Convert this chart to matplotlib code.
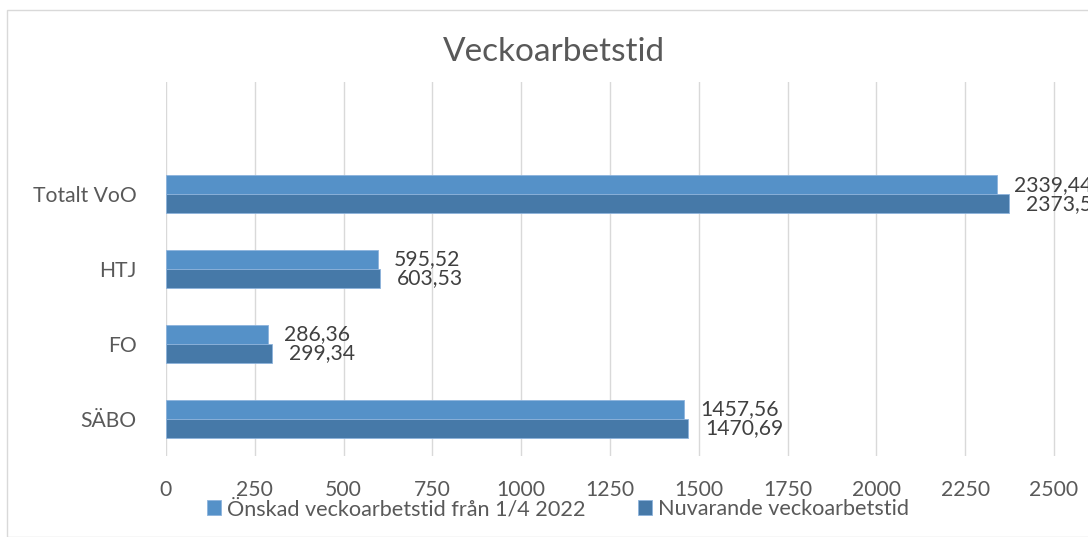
import numpy as np
import matplotlib.pyplot as plt
from matplotlib.patches import Rectangle

# data (top to bottom in the chart)
categories = ["Totalt VoO", "HTJ", "FO", "SÄBO"]
onskad = [2339.44, 595.52, 286.36, 1457.56]
nuvarande = [2373.56, 603.53, 299.34, 1470.69]
series_names = ["Önskad veckoarbetstid från 1/4 2022", "Nuvarande veckoarbetstid"]
xticks = [0, 250, 500, 750, 1000, 1250, 1500, 1750, 2000, 2250, 2500]

light = "#5591C8"
dark = "#4679A8"
grey_txt = "#595959"

plt.rcParams['font.family'] = ['Lato', 'DejaVu Sans']

W, H = 1088, 537
fig = plt.figure(figsize=(W / 100, H / 100), dpi=100)

# chart border (cropped on the right and bottom)
fig.patches.append(Rectangle((7 / W, 0), 1.2, 1 - 10 / H, transform=fig.transFigure,
                             fill=False, edgecolor="#D9D9D9", linewidth=1.0))

ax = fig.add_axes([166 / W, 1 - 456 / H, 1 - 166 / W, (456 - 82) / H])

# categories bottom-up, leaving an empty slot on top
y = np.arange(len(categories))[::-1].astype(float)
h = 0.253
b1 = ax.barh(y + h / 2, onskad, height=h, color=light, edgecolor="#8DB3DC", linewidth=0.6,
             label=series_names[0], zorder=3)
b2 = ax.barh(y - h / 2, nuvarande, height=h, color=dark, edgecolor="#8DB3DC", linewidth=0.6,
             label=series_names[1], zorder=3)

def fmt(v):
    return f"{v:.2f}".replace(".", ",")

for bars, vals in ((b1, onskad), (b2, nuvarande)):
    for rect, v in zip(bars, vals):
        ax.annotate(fmt(v), (v, rect.get_y() + rect.get_height() / 2),
                    xytext=(12, 0), textcoords="offset points", va="center", ha="left",
                    fontsize=15.2, color="#404040", annotation_clip=False)

ax.set_xlim(0, (W - 166) / 88.8 * 250)
ax.set_ylim(-0.5, len(categories) + 0.5)
ax.set_xticks(xticks)
ax.set_xticklabels([str(t) for t in xticks])
ax.set_yticks(y)
ax.set_yticklabels(categories)
ax.tick_params(axis="both", length=0, labelsize=15.2, labelcolor=grey_txt)
ax.tick_params(axis="x", pad=17)
ax.tick_params(axis="y", pad=21)
ax.grid(axis="x", color="#D9D9D9", linewidth=1.0, zorder=0)
for s in ax.spines.values():
    s.set_visible(False)

fig.text(554 / W, 1 - 52 / H, "Veckoarbetstid", ha="center", va="center",
         fontsize=24, color=grey_txt)

leg = fig.legend(handles=[b1, b2], loc="center", bbox_to_anchor=(558 / W, 1 - 509 / H),
                 ncol=2, frameon=False, fontsize=15.6, handlelength=0.65, handleheight=0.65,
                 handletextpad=0.25, columnspacing=2.45, labelcolor=grey_txt)

fig.savefig("out.png", dpi=100)
